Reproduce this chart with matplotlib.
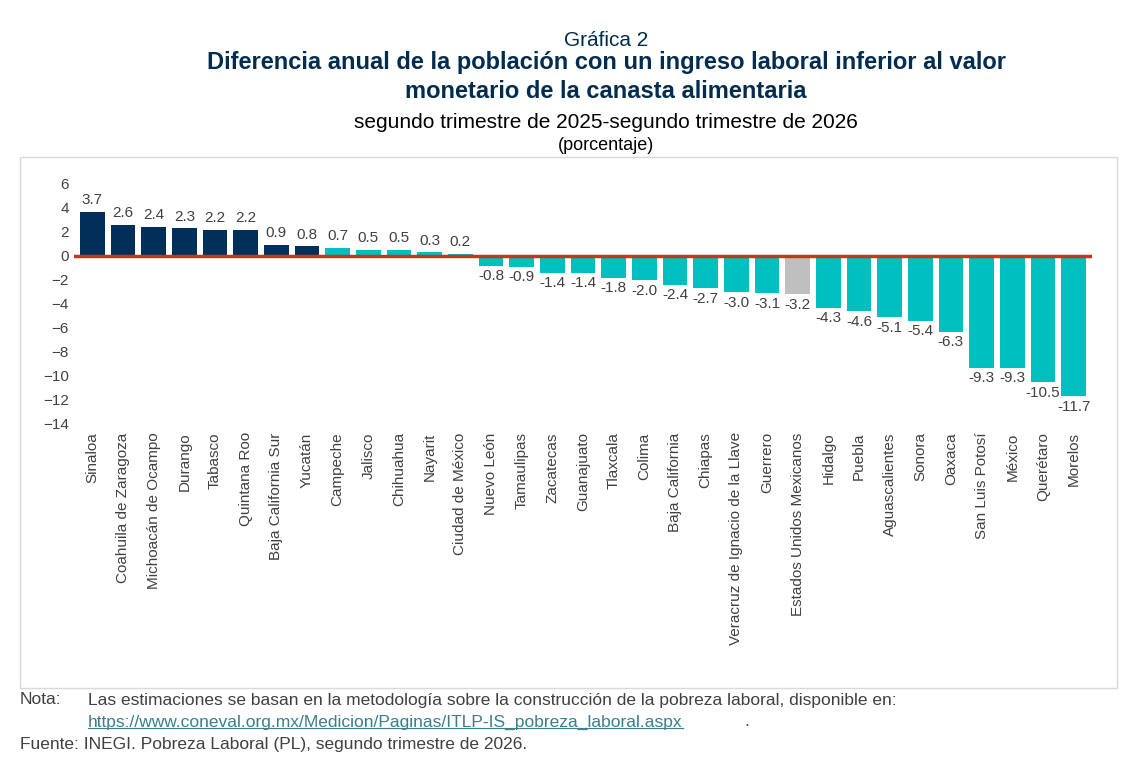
import matplotlib.pyplot as plt
import matplotlib.patches as patches

plt.rcParams['font.family'] = ['Liberation Sans', 'DejaVu Sans']

estados = ["Sinaloa", "Coahuila de Zaragoza", "Michoacán de Ocampo", "Durango", "Tabasco",
           "Quintana Roo", "Baja California Sur", "Yucatán", "Campeche", "Jalisco", "Chihuahua",
           "Nayarit", "Ciudad de México", "Nuevo León", "Tamaulipas", "Zacatecas", "Guanajuato",
           "Tlaxcala", "Colima", "Baja California", "Chiapas", "Veracruz de Ignacio de la Llave",
           "Guerrero", "Estados Unidos Mexicanos", "Hidalgo", "Puebla", "Aguascalientes", "Sonora",
           "Oaxaca", "San Luis Potosí", "México", "Querétaro", "Morelos"]
valores = [3.7, 2.6, 2.4, 2.3, 2.2, 2.2, 0.9, 0.8, 0.7, 0.5, 0.5, 0.3, 0.2, -0.8, -0.9, -1.4,
           -1.4, -1.8, -2.0, -2.4, -2.7, -3.0, -3.1, -3.2, -4.3, -4.6, -5.1, -5.4, -6.3, -9.3,
           -9.3, -10.5, -11.7]
n_navy = 8

navy = '#00305A'
teal = '#00BFBF'
gris = '#BFBFBF'
colores = []
for i, e in enumerate(estados):
    if e == "Estados Unidos Mexicanos":
        colores.append(gris)
    elif i < n_navy:
        colores.append(navy)
    else:
        colores.append(teal)

fig = plt.figure(figsize=(11.31, 7.65), dpi=100)
fig.patches.append(patches.Rectangle((20/1131, 1-688/765), 1097/1131, 531/765,
                                     transform=fig.transFigure, fill=False,
                                     edgecolor='#D9D9D9', lw=1))
ax = fig.add_axes([0.0654, 0.4458, 0.9001, 0.3137])
x = range(len(estados))
ax.bar(x, valores, width=0.8, color=colores, zorder=2)
ax.axhline(0, color='#C0391B', lw=2.5, zorder=3)
for i, v in enumerate(valores):
    if v >= 0:
        ax.text(i, v + 0.4, f"{v:.1f}", ha='center', va='bottom', fontsize=11, color='#404040')
    else:
        ax.text(i, v - 0.3, f"{v:.1f}", ha='center', va='top', fontsize=11, color='#404040')
ax.set_xlim(-0.6, len(estados) - 0.4)
ax.set_ylim(-14, 6)
ax.set_yticks(range(-14, 7, 2))
ax.set_xticks(list(x))
ax.set_xticklabels(estados, rotation=90, fontsize=11, color='#404040')
ax.tick_params(axis='y', labelsize=11, colors='#404040', length=0)
ax.tick_params(axis='x', length=0, pad=6)
for s in ax.spines.values():
    s.set_visible(False)

fig.text(0.536, 1-40/765, "Gráfica 2", ha='center', va='center', fontsize=15, color='#002D4F')
fig.text(0.536, 1-62/765, "Diferencia anual de la población con un ingreso laboral inferior al valor",
         ha='center', va='center', fontsize=17, fontweight='bold', color='#002D4F')
fig.text(0.536, 1-92/765, "monetario de la canasta alimentaria",
         ha='center', va='center', fontsize=17, fontweight='bold', color='#002D4F')
fig.text(0.536, 1-122/765, "segundo trimestre de 2025-segundo trimestre de 2026",
         ha='center', va='center', fontsize=15, color='black')
fig.text(0.536, 1-146/765, "(porcentaje)", ha='center', va='center', fontsize=13, color='black')

fig.text(20/1131, 1-700/765, "Nota:", ha='left', va='center', fontsize=12.5, color='#404040')
fig.text(88/1131, 1-700/765,
         "Las estimaciones se basan en la metodología sobre la construcción de la pobreza laboral, disponible en:",
         ha='left', va='center', fontsize=12.5, color='#404040')
t = fig.text(88/1131, 1-722/765, "https://www.coneval.org.mx/Medicion/Paginas/ITLP-IS_pobreza_laboral.aspx",
             ha='left', va='center', fontsize=12.5, color='#3A7F8C')
fig.text(0.6585, 1-722/765, ".", ha='left', va='center', fontsize=12.5, color='#404040')
fig.text(20/1131, 1-744/765, "Fuente: INEGI. Pobreza Laboral (PL), segundo trimestre de 2026.",
         ha='left', va='center', fontsize=12.5, color='#404040')
fig.canvas.draw()
bb = t.get_window_extent().transformed(fig.transFigure.inverted())
fig.add_artist(plt.Line2D([bb.x0, bb.x1], [bb.y0 + 0.002, bb.y0 + 0.002], color='#3A7F8C', lw=0.8))

fig.savefig('out.png', dpi=100)
